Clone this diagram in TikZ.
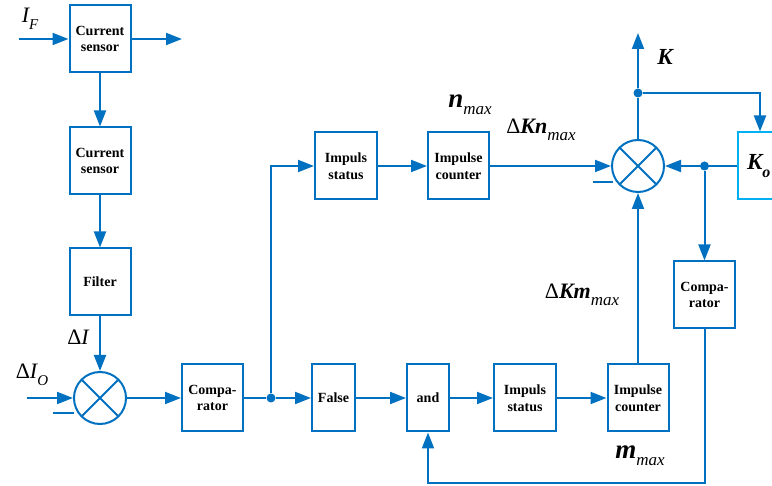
\documentclass[tikz,border=0pt]{standalone}
\usepackage{fontspec}
\setmainfont{Liberation Serif}
\usetikzlibrary{arrows.meta,calc}
\definecolor{lineblue}{RGB}{0,112,192}
\definecolor{lightblue}{RGB}{0,176,240}
\newcommand\lowsub[2][14]{\raisebox{-0.32em}{\fontsize{#1}{#1}\selectfont\itshape #2}}
\tikzset{
  wire/.style={draw=lineblue, line width=2pt},
  flow/.style={wire, -{Triangle[length=16pt,width=12pt]}},
  block/.style={draw=lineblue, line width=2pt, fill=white, minimum height=67pt,
    minimum width=61pt, inner sep=1pt, align=center,
    font=\fontsize{14}{16.5}\selectfont\bfseries},
  summer/.style={circle, draw=lineblue, line width=2pt, minimum size=52pt, inner sep=0pt,
    path picture={\draw[lineblue, line width=2pt]
      (path picture bounding box.south west) -- (path picture bounding box.north east)
      (path picture bounding box.north west) -- (path picture bounding box.south east);}},
  dot/.style={circle, fill=lineblue, minimum size=9pt, inner sep=0pt},
  bigtxt/.style={inner sep=0pt, font=\fontsize{22}{22}\selectfont}
}
\begin{document}
\begin{tikzpicture}[x=1pt,y=-1pt]
\useasboundingbox (0,0) rectangle (772,486);
\clip (0,0) rectangle (772,486);

% left column: sensing and filtering
\node[block] (cs1) at (100,39) {Current\\sensor};
\node[block] (cs2) at (100,161) {Current\\sensor};
\node[block] (filt) at (100,282) {Filter};
\node[summer] (sum1) at (100,398) {};

% lower chain
\node[block] (comp1) at (212.5,398) {Compa-\\rator};
\node[dot] (j1) at (271,398) {};
\node[block, minimum width=43pt] (false) at (333.5,398) {False};
\node[block, minimum width=42pt] (and) at (428,398) {and};
\node[block, minimum width=62pt] (imps2) at (525,398) {Impuls\\status};
\node[block] (impc2) at (638,398) {Impulse\\counter};

% upper chain
\node[block, minimum width=62pt] (imps1) at (346,166) {Impuls\\status};
\node[block] (impc1) at (458.5,166) {Impulse\\counter};
\node[summer] (sum2) at (638,166) {};

% reference block and its comparator
\node[block, draw=lightblue, minimum width=60pt, text width=50pt, align=left]
  (ko) at (768,166) {\hspace*{4pt}\fontsize{23}{23}\selectfont\bfseries\itshape K\lowsub[16]{o}};
\node[block] (comp2) at (704.5,295) {Compa-\\rator};
\node[dot] (j2) at (704.5,166) {};
\node[dot] (j3) at (638,93) {};
\coordinate (kout) at (638,33);
\coordinate (kfb) at (760,93);
\coordinate (fbturn) at (704.5,483);
\coordinate (ifin) at (19,39);
\coordinate (ifout) at (182,39);
\coordinate (dioin) at (27,398);

% connectors
\draw[flow] (ifin) -- (cs1.west);
\draw[flow] (cs1.east) -- (ifout);
\draw[flow] (cs1.south) -- (cs2.north);
\draw[flow] (cs2.south) -- (filt.north);
\draw[flow] (filt.south) -- (sum1.north);
\draw[flow] (dioin) -- (sum1.west);
\draw[flow] (sum1.east) -- (comp1.west);
\draw[wire] (comp1.east) -- (j1);
\draw[flow] (j1) -- (false.west);
\draw[flow] (j1) |- (imps1.west);
\draw[flow] (false.east) -- (and.west);
\draw[flow] (and.east) -- (imps2.west);
\draw[flow] (imps2.east) -- (impc2.west);
\draw[flow] (imps1.east) -- (impc1.west);
\draw[flow] (impc1.east) -- (sum2.west);
\draw[flow] (impc2.north) -- (sum2.south);
\draw[wire] (sum2.north) -- (j3);
\draw[flow] (j3) -- (kout);
\draw[flow] (j3) -- (kfb) -- (kfb |- ko.north);
\draw[flow] (ko.west) -- (sum2.east);
\draw[flow] (j2) -- (comp2.north);
\draw[flow] (comp2.south) -- (fbturn) -| (and.south);

% minus signs at the summing points
\draw[wire] (53,413) -- (74,413);
\draw[wire] (593,182) -- (613,182);

% signal labels
\node[bigtxt] at (30,19) {\itshape I\lowsub[15]{F}};
\node[bigtxt] at (78,337) {Δ\itshape I};
\node[bigtxt] at (32,375) {Δ\itshape I\lowsub[15]{O}};
\node[bigtxt, font=\fontsize{23}{23}\selectfont\bfseries\itshape] at (665,57) {K};
\node[bigtxt] at (470,105) {{\fontsize{27}{27}\selectfont\bfseries\itshape n}\lowsub[17]{max}};
\node[bigtxt] at (541,130) {Δ{\bfseries\itshape Kn}\lowsub[17]{max}};
\node[bigtxt] at (582,295) {Δ{\bfseries\itshape Km}\lowsub[17]{max}};
\node[bigtxt] at (640,456) {{\fontsize{27}{27}\selectfont\bfseries\itshape m}\lowsub[17]{max}};
\end{tikzpicture}
\end{document}
